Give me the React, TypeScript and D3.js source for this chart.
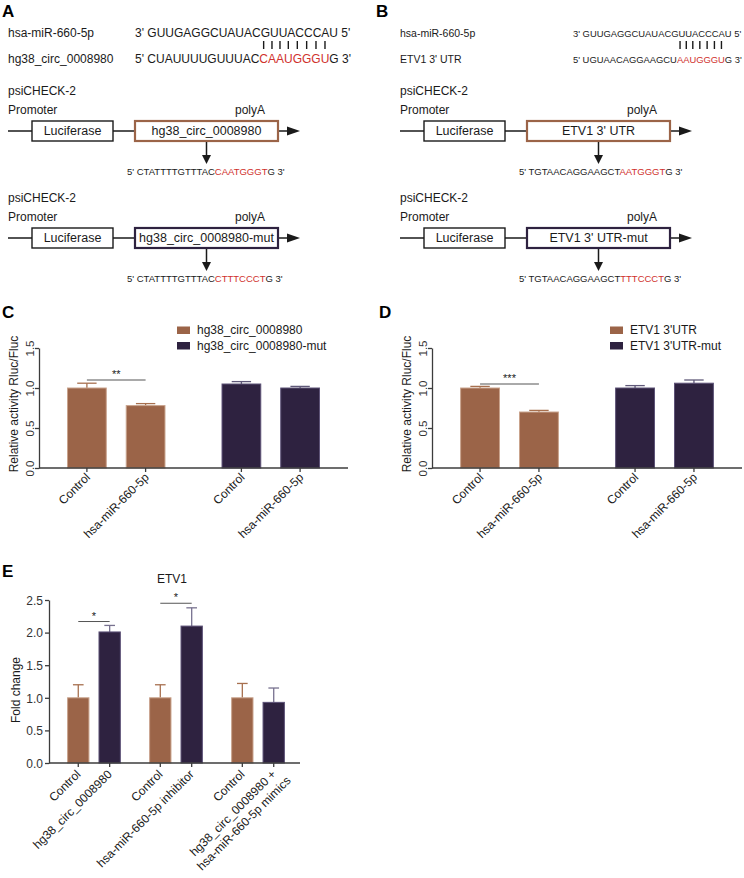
import React, { useEffect, useRef } from "react";
import * as d3 from "d3";

const FONT = "'Liberation Sans', Arial, Helvetica, sans-serif";
const BROWN = "#9b6448";
const BROWN_EDGE = "#c9a38d";
const BROWN_ERR = "#a7704f";
const NAVY = "#2e2240";
const NAVY_EDGE = "#5d5277";
const NAVY_ERR = "#5f5878";
const RED = "#d0312d";
const INK = "#1a1a1a";
const AXIS = "#3c3c3c";

// ---------- Panels A / B : sequences ----------
const mirName = "hsa-miR-660-5p";
const mirSeq = "3' GUUGAGGCUAUACGUUACCCAU 5'";
const circName = "hg38_circ_0008980";
const circMutName = "hg38_circ_0008980-mut";
const circSeqParts = ["5' CUAUUUUGUUUAC", "CAAUGGGU", "G 3'"];
const utrName = "ETV1 3' UTR";
const utrMutName = "ETV1 3' UTR-mut";
const utrSeqParts = ["5' UGUAACAGGAAGCU", "AAUGGGU", "G 3'"];
const circWtDna = ["5' CTATTTTGTTTAC", "CAATGGGT", "G 3'"];
const circMutDna = ["5' CTATTTTGTTTAC", "CTTTCCCT", "G 3'"];
const utrWtDna = ["5' TGTAACAGGAAGCT", "AATGGGT", "G 3'"];
const utrMutDna = ["5' TGTAACAGGAAGCT", "TTTCCCT", "G 3'"];

// ---------- Panels C / D ----------
const conditions = ["Control", "hsa-miR-660-5p"];
const relTicks = [0, 0.5, 1.0, 1.5];
const seriesC = ["hg38_circ_0008980", "hg38_circ_0008980-mut"];
const valuesCWt = [1.0, 0.78];
const errorsCWt = [0.06, 0.025];
const valuesCMut = [1.05, 1.0];
const errorsCMut = [0.03, 0.02];
const seriesD = ["ETV1 3'UTR", "ETV1 3'UTR-mut"];
const valuesDWt = [1.0, 0.7];
const errorsDWt = [0.02, 0.02];
const valuesDMut = [1.0, 1.06];
const errorsDMut = [0.03, 0.04];
const sigC = { y: 1.1, label: "**" };
const sigD = { y: 1.05, label: "***" };

// ---------- Panel E ----------
const foldTicks = [0, 0.5, 1.0, 1.5, 2.0, 2.5];
const eControlLabels = ["Control", "Control", "Control"];
const eTreatLabels = [
  ["hg38_circ_0008980"],
  ["hsa-miR-660-5p inhibitor"],
  ["hg38_circ_0008980 +", "hsa-miR-660-5p mimics"],
];
const eControl = [1.0, 1.0, 1.0];
const eControlErr = [0.2, 0.2, 0.22];
const eTreat = [2.01, 2.1, 0.93];
const eTreatErr = [0.1, 0.28, 0.22];
const sigE = [
  { group: 0, y: 2.17, label: "*" },
  { group: 1, y: 2.45, label: "*" },
];

type Sel = d3.Selection<SVGSVGElement, unknown, null, undefined>;
type Bar = { label: string[]; value: number; err: number; fill: string; edge: string; errColor: string };

function panelLetter(svg: Sel, x: number, y: number, t: string) {
  svg.append("text").attr("x", x).attr("y", y).attr("font-size", 17).attr("font-weight", "bold").attr("fill", "#000").text(t);
}

function pairing(svg: Sel, labelX: number, seqX: number, labelFs: number, seqFs: number, lowerLabel: string, lowerParts: string[]) {
  const g = svg.append("g").attr("fill", INK);
  g.append("text").attr("x", labelX).attr("y", 37).attr("font-size", labelFs).text(mirName);
  g.append("text").attr("x", seqX).attr("y", 37).attr("font-size", seqFs).text(mirSeq);
  g.append("text").attr("x", labelX).attr("y", 63).attr("font-size", labelFs).text(lowerLabel);
  const low = g.append("text").attr("x", seqX).attr("y", 63).attr("font-size", seqFs);
  lowerParts.forEach((p, i) => low.append("tspan").attr("fill", i === 1 ? RED : INK).text(p));
  const node = low.node() as SVGTextElement;
  const start = lowerParts[0].length;
  for (let i = 0; i < lowerParts[1].length; i++) {
    const r = node.getExtentOfChar(start + i);
    const cx = r.x + r.width / 2;
    g.append("line").attr("x1", cx).attr("x2", cx).attr("y1", 41).attr("y2", 49).attr("stroke", INK).attr("stroke-width", 1.4);
  }
}

function construct(svg: Sel, ox: number, y0: number, insert: string, color: string, dna: string[]) {
  const g = svg.append("g").attr("transform", `translate(${ox},0)`).attr("fill", INK);
  g.append("text").attr("x", 8).attr("y", y0).attr("font-size", 12).text("psiCHECK-2");
  g.append("text").attr("x", 8).attr("y", y0 + 18.5).attr("font-size", 12).text("Promoter");
  g.append("text").attr("x", 235).attr("y", y0 + 18.5).attr("font-size", 12).text("polyA");
  const ly = y0 + 36;
  [[8, 32], [113, 135], [278, 292]].forEach(([a, b]) =>
    g.append("line").attr("x1", a).attr("x2", b).attr("y1", ly).attr("y2", ly).attr("stroke", INK).attr("stroke-width", 1.5)
  );
  g.append("path").attr("d", `M287,${ly - 4.5} L300,${ly} L287,${ly + 4.5} Z`).attr("fill", INK);
  g.append("rect").attr("x", 32).attr("y", y0 + 26).attr("width", 81).attr("height", 20).attr("fill", "#fff").attr("stroke", INK).attr("stroke-width", 1.4);
  g.append("text").attr("x", 72.5).attr("y", ly + 4.4).attr("text-anchor", "middle").attr("font-size", 12.5).text("Luciferase");
  g.append("rect").attr("x", 135).attr("y", y0 + 26).attr("width", 143).attr("height", 20).attr("fill", "#fff").attr("stroke", color).attr("stroke-width", 2.2);
  g.append("text").attr("x", 206.5).attr("y", ly + 4.4).attr("text-anchor", "middle").attr("font-size", 12.5).text(insert);
  g.append("line").attr("x1", 206.5).attr("x2", 206.5).attr("y1", y0 + 47).attr("y2", y0 + 62).attr("stroke", INK).attr("stroke-width", 1.5);
  g.append("path").attr("d", `M202,${y0 + 60} L206.5,${y0 + 69} L211,${y0 + 60} Z`).attr("fill", INK);
  const t = g.append("text").attr("x", 127).attr("y", y0 + 80).attr("font-size", 9.5);
  dna.forEach((p, i) => t.append("tspan").attr("fill", i === 1 ? RED : INK).text(p));
}

interface ChartCfg {
  x0: number; x1: number; yTop: number; yBot: number; yMax: number; ticks: number[];
  groups: Bar[][]; pInner: number; pOuter: number; align: number; ipInner: number; ipOuter: number;
  rotateY: boolean; yLabelOff: number; title: string; titleX: number; titleY: number;
  labelDx: number; labelDy: number; labelFs: number; tickFs: number;
  sigs: { group: number; y: number; label: string }[];
}

function barChart(svg: Sel, c: ChartCfg) {
  const g = svg.append("g");
  const y = d3.scaleLinear().domain([0, c.yMax]).range([c.yBot, c.yTop]);
  const gx = d3.scaleBand<number>().domain(d3.range(c.groups.length)).range([c.x0, c.x1])
    .paddingInner(c.pInner).paddingOuter(c.pOuter).align(c.align);
  const bx = d3.scaleBand<number>().domain(d3.range(c.groups[0].length)).range([0, gx.bandwidth()])
    .paddingInner(c.ipInner).paddingOuter(c.ipOuter);
  const bw = bx.bandwidth();
  const cxOf = (gi: number, bi: number) => (gx(gi) as number) + (bx(bi) as number) + bw / 2;

  c.groups.forEach((bars, gi) => {
    bars.forEach((b, bi) => {
      const cx = cxOf(gi, bi);
      g.append("line").attr("x1", cx).attr("x2", cx).attr("y1", y(b.value)).attr("y2", y(b.value + b.err))
        .attr("stroke", b.errColor).attr("stroke-width", 1.3);
      g.append("line").attr("x1", cx - bw / 4).attr("x2", cx + bw / 4).attr("y1", y(b.value + b.err)).attr("y2", y(b.value + b.err))
        .attr("stroke", b.errColor).attr("stroke-width", 1.3);
      g.append("rect").attr("x", cx - bw / 2).attr("y", y(b.value)).attr("width", bw).attr("height", c.yBot - y(b.value))
        .attr("fill", b.fill).attr("stroke", b.edge).attr("stroke-width", 1);
      g.append("line").attr("x1", cx).attr("x2", cx).attr("y1", c.yBot).attr("y2", c.yBot + 4).attr("stroke", AXIS).attr("stroke-width", 1.3);
      const t = g.append("text").attr("transform", `translate(${cx + c.labelDx},${c.yBot + c.labelDy}) rotate(-45)`)
        .attr("text-anchor", "end").attr("font-size", c.labelFs).attr("fill", INK);
      b.label.forEach((line, li) => t.append("tspan").attr("x", li * 6).attr("dy", li === 0 ? 0 : "1.25em").text(line));
    });
  });

  g.append("line").attr("x1", c.x0).attr("x2", c.x1).attr("y1", c.yBot).attr("y2", c.yBot).attr("stroke", AXIS).attr("stroke-width", 1.3);

  const ax = g.append("g").attr("transform", `translate(${c.x0},0)`)
    .call(d3.axisLeft(y).tickValues(c.ticks).tickSize(4).tickSizeOuter(0).tickFormat(d3.format(".1f")));
  ax.attr("font-family", FONT).attr("font-size", c.tickFs);
  ax.select(".domain").attr("stroke", AXIS).attr("stroke-width", 1.3);
  ax.selectAll(".tick line").attr("stroke", AXIS).attr("stroke-width", 1.3);
  const tt = ax.selectAll(".tick text").attr("fill", "#333");
  if (c.rotateY) {
    tt.attr("x", null).attr("dy", null).attr("text-anchor", "middle").attr("transform", `translate(${-c.yLabelOff},0) rotate(-90)`);
  } else {
    tt.attr("x", -c.yLabelOff).attr("dy", "0.35em");
  }
  g.append("text").attr("transform", `translate(${c.titleX},${c.titleY}) rotate(-90)`).attr("text-anchor", "middle")
    .attr("font-size", 12).attr("fill", INK).text(c.title);

  c.sigs.forEach((s) => {
    const a = cxOf(s.group, 0), b = cxOf(s.group, 1), yy = y(s.y);
    g.append("line").attr("x1", a).attr("x2", b).attr("y1", yy).attr("y2", yy).attr("stroke", "#555").attr("stroke-width", 1);
    g.append("text").attr("x", (a + b) / 2).attr("y", yy - 2).attr("text-anchor", "middle").attr("font-size", 11).attr("fill", INK).text(s.label);
  });
}

function legend(svg: Sel, x: number, y: number, items: string[], colors: string[]) {
  items.forEach((it, i) => {
    const yy = y + i * 15.5;
    svg.append("rect").attr("x", x).attr("y", yy - 3.5).attr("width", 13).attr("height", 7.5).attr("fill", colors[i]);
    svg.append("text").attr("x", x + 20).attr("y", yy + 4).attr("font-size", 12).attr("fill", INK).text(it);
  });
}

export default function App() {
  const ref = useRef<SVGSVGElement>(null);
  useEffect(() => {
    const svg = d3.select(ref.current as SVGSVGElement) as Sel;
    svg.selectAll("*").remove();
    svg.append("rect").attr("width", 744).attr("height", 878).attr("fill", "#fff");

    // A
    panelLetter(svg, 2, 17, "A");
    pairing(svg, 8, 135, 12, 12, circName, circSeqParts);
    construct(svg, 0, 95, circName, BROWN, circWtDna);
    construct(svg, 0, 202, circMutName, NAVY, circMutDna);

    // B
    panelLetter(svg, 376, 17, "B");
    pairing(svg, 400, 573, 10.5, 9.4, utrName, utrSeqParts);
    construct(svg, 392, 95, utrName, BROWN, utrWtDna);
    construct(svg, 392, 202, utrMutName, NAVY, utrMutDna);

    const mk = (vals: number[], errs: number[], fill: string, edge: string, errC: string): Bar[] =>
      conditions.map((cnd, i) => ({ label: [cnd], value: vals[i], err: errs[i], fill, edge, errColor: errC }));

    // C
    panelLetter(svg, 2, 318, "C");
    legend(svg, 177, 330, seriesC, [BROWN, NAVY]);
    barChart(svg, {
      x0: 39, x1: 348, yTop: 348, yBot: 468, yMax: 1.5, ticks: relTicks,
      groups: [mk(valuesCWt, errorsCWt, BROWN, BROWN_EDGE, BROWN_ERR), mk(valuesCMut, errorsCMut, NAVY, NAVY_EDGE, NAVY_ERR)],
      pInner: 0.24, pOuter: 0.12, align: 0.5, ipInner: 0.34, ipOuter: 0.17,
      rotateY: true, yLabelOff: 5, title: "Relative activity Rluc/Fluc", titleX: 18, titleY: 404,
      labelDx: 4, labelDy: 10, labelFs: 12, tickFs: 11.5, sigs: [{ group: 0, ...sigC }],
    });

    // D
    panelLetter(svg, 379, 318, "D");
    legend(svg, 610, 330, seriesD, [BROWN, NAVY]);
    barChart(svg, {
      x0: 432, x1: 742, yTop: 348, yBot: 468, yMax: 1.5, ticks: relTicks,
      groups: [mk(valuesDWt, errorsDWt, BROWN, BROWN_EDGE, BROWN_ERR), mk(valuesDMut, errorsDMut, NAVY, NAVY_EDGE, NAVY_ERR)],
      pInner: 0.24, pOuter: 0.12, align: 0.5, ipInner: 0.34, ipOuter: 0.17,
      rotateY: true, yLabelOff: 5, title: "Relative activity Rluc/Fluc", titleX: 411, titleY: 404,
      labelDx: 4, labelDy: 10, labelFs: 12, tickFs: 11.5, sigs: [{ group: 0, ...sigD }],
    });

    // E
    panelLetter(svg, 2, 577, "E");
    svg.append("text").attr("x", 172).attr("y", 583).attr("text-anchor", "middle").attr("font-size", 12).attr("fill", INK).text("ETV1");
    const eGroups: Bar[][] = eControl.map((v, i) => [
      { label: [eControlLabels[i]], value: v, err: eControlErr[i], fill: BROWN, edge: BROWN_EDGE, errColor: BROWN_ERR },
      { label: eTreatLabels[i], value: eTreat[i], err: eTreatErr[i], fill: NAVY, edge: NAVY_EDGE, errColor: "#77718f" },
    ]);
    barChart(svg, {
      x0: 49, x1: 300, yTop: 600, yBot: 763, yMax: 2.5, ticks: foldTicks,
      groups: eGroups, pInner: 0.2, pOuter: 0.13, align: 0.57, ipInner: 0.32, ipOuter: 0.205,
      rotateY: false, yLabelOff: 6, title: "Fold change", titleX: 20, titleY: 690,
      labelDx: 3, labelDy: 12, labelFs: 12, tickFs: 12, sigs: sigE,
    });
  }, []);
  return (
    <svg ref={ref} width={744} height={878} fontFamily={FONT}
      style={{ position: "absolute", left: 0, top: 0, display: "block" }} />
  );
}
